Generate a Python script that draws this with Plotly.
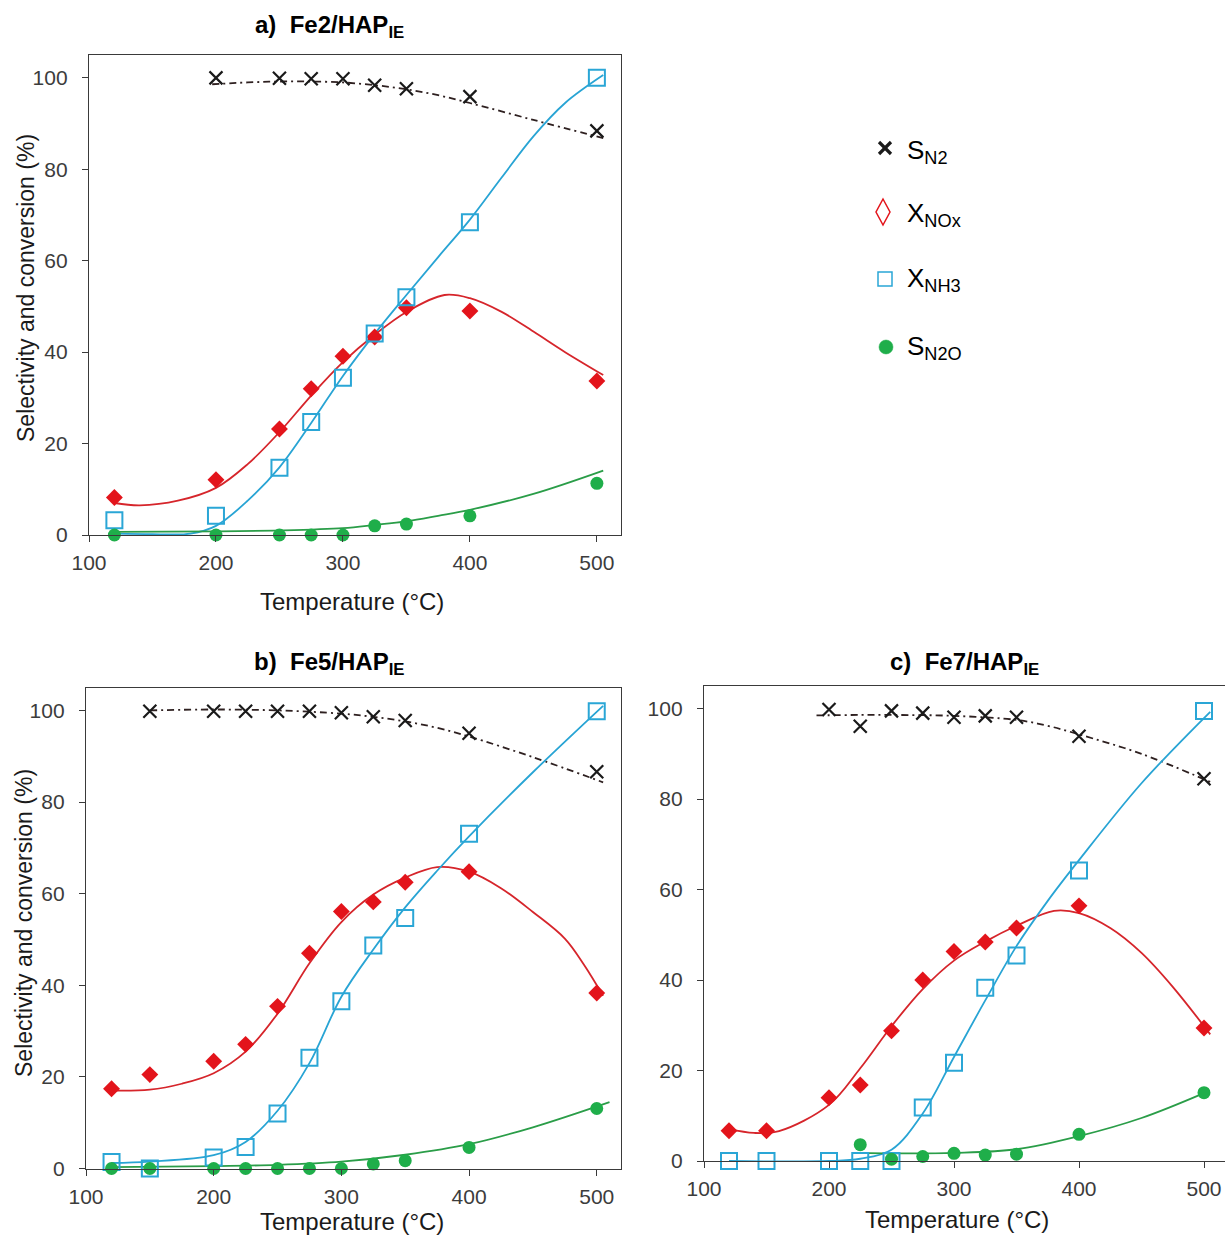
import plotly.graph_objects as go

# ---------------- data ----------------
# Panel a) Fe2/HAP_IE
T_a = [120, 200, 250, 275, 300, 325, 350, 400, 500]
SN2_a = [None, 100.0, 99.9, 99.8, 99.8, 98.4, 97.6, 95.9, 88.4]
XNOx_a = [8.2, 12.1, 23.2, 32.0, 39.1, 43.3, 49.7, 49.0, 33.7]
XNH3_a = [3.2, 4.2, 14.7, 24.7, 34.4, 44.1, 52.0, 68.4, 100.0]
SN2O_a = [0.0, 0.0, 0.0, 0.0, 0.0, 2.0, 2.4, 4.2, 11.3]

# trend curves a)
fitT_SN2_a = [197, 225, 250, 275, 300, 325, 350, 375, 400, 450, 505]
fit_SN2_a = [98.6, 99.0, 99.2, 99.2, 99.0, 98.4, 97.5, 96.2, 94.5, 90.8, 86.8]
fitT_NOx_a = [120, 140, 170, 200, 225, 250, 275, 300, 325, 350, 380, 400, 425, 450, 475, 505]
fit_NOx_a = [7.0, 6.5, 7.5, 10.3, 15.5, 22.5, 30.5, 37.8, 43.8, 48.8, 52.5, 51.8, 48.8, 44.5, 40.0, 35.0]
fitT_NH3_a = [120, 150, 180, 200, 225, 250, 275, 300, 325, 350, 375, 400, 425, 450, 475, 505]
fit_NH3_a = [0.3, 0.2, 0.3, 2.0, 7.5, 14.8, 24.5, 34.8, 44.0, 52.5, 60.8, 69.0, 78.2, 87.2, 94.5, 100.6]
fitT_N2O_a = [120, 200, 250, 300, 325, 350, 375, 400, 450, 505]
fit_N2O_a = [0.7, 0.8, 1.0, 1.5, 2.2, 3.0, 4.2, 5.5, 9.0, 14.1]

# Panel b) Fe5/HAP_IE
T_b = [120, 150, 200, 225, 250, 275, 300, 325, 350, 400, 500]
SN2_b = [None, 99.8, 99.8, 99.8, 99.8, 99.8, 99.5, 98.6, 97.8, 95.0, 86.6]
XNOx_b = [17.4, 20.5, 23.4, 27.1, 35.4, 47.0, 56.1, 58.2, 62.5, 64.8, 38.3]
XNH3_b = [1.4, 0.0, 2.4, 4.7, 12.0, 24.2, 36.5, 48.7, 54.7, 73.1, 99.8]
SN2O_b = [0.0, 0.0, 0.0, 0.0, 0.0, 0.0, 0.0, 1.0, 1.7, 4.6, 13.1]

fitT_SN2_b = [150, 200, 250, 300, 325, 350, 375, 400, 450, 505]
fit_SN2_b = [100.0, 100.2, 100.0, 99.3, 98.6, 97.6, 96.2, 94.3, 89.8, 84.3]
fitT_NOx_b = [120, 150, 175, 200, 225, 250, 275, 300, 325, 350, 375, 400, 425, 450, 475, 490, 505]
fit_NOx_b = [17.0, 17.2, 18.5, 20.8, 25.5, 33.8, 44.8, 53.8, 59.8, 63.5, 65.8, 64.8, 61.2, 56.0, 50.2, 44.5, 37.7]
fitT_NH3_b = [120, 150, 200, 225, 250, 275, 300, 325, 350, 375, 400, 450, 505]
fit_NH3_b = [1.2, 1.5, 2.9, 5.8, 12.6, 23.0, 37.5, 47.8, 57.0, 65.0, 72.5, 86.5, 101.0]
fitT_N2O_b = [120, 200, 250, 300, 350, 400, 450, 510]
fit_N2O_b = [0.3, 0.5, 0.8, 1.5, 3.0, 5.3, 9.0, 14.5]

# Panel c) Fe7/HAP_IE
T_c = [120, 150, 200, 225, 250, 275, 300, 325, 350, 400, 500]
SN2_c = [None, None, 99.8, 96.1, 99.5, 99.0, 98.1, 98.4, 98.1, 93.9, 84.5]
XNOx_c = [6.7, 6.7, 14.0, 16.8, 28.8, 40.0, 46.3, 48.4, 51.5, 56.4, 29.4]
XNH3_c = [0.0, 0.0, 0.0, 0.0, 0.0, 11.8, 21.7, 38.3, 45.4, 64.2, 99.5]
SN2O_c = [None, None, None, 3.6, 0.4, 1.0, 1.7, 1.3, 1.5, 5.9, 15.1]

fitT_SN2_c = [190, 225, 250, 300, 350, 375, 400, 450, 505]
fit_SN2_c = [98.5, 98.6, 98.6, 98.4, 97.5, 96.2, 94.3, 90.0, 83.8]
fitT_NOx_c = [120, 140, 160, 200, 225, 250, 275, 300, 325, 350, 380, 400, 425, 450, 475, 505]
fit_NOx_c = [7.1, 6.2, 6.6, 12.4, 20.5, 29.8, 38.0, 44.3, 48.5, 52.0, 55.3, 54.8, 51.5, 46.0, 38.5, 28.0]
fitT_NH3_c = [120, 200, 225, 250, 275, 300, 325, 350, 375, 400, 450, 505]
fit_NH3_c = [0.0, 0.0, 0.5, 2.5, 10.5, 23.0, 35.5, 47.5, 57.5, 66.5, 83.5, 99.3]
fitT_N2O_c = [225, 250, 300, 350, 400, 450, 500]
fit_N2O_c = [1.8, 1.7, 1.8, 2.6, 5.5, 9.5, 15.0]

panel_titles = ["a)\u00a0 Fe2/HAP<sub>IE</sub>", "b)\u00a0 Fe5/HAP<sub>IE</sub>", "c)\u00a0 Fe7/HAP<sub>IE</sub>"]
legend_labels = ["S<sub>N2</sub>", "X<sub>NOx</sub>", "X<sub>NH3</sub>", "S<sub>N2O</sub>"]
x_ticks = [100, 200, 300, 400, 500]
y_ticks = [0, 20, 40, 60, 80, 100]

# ---------------- styling ----------------
W, H = 1225, 1236
FONT = "Liberation Sans, Arial, sans-serif"
C_BLACK = "#1a1a1a"
C_DASH = "#2e2020"
C_RED = "#e3141b"
C_RED_LINE = "#d6252b"
C_BLUE = "#2aa6d6"
C_BLUE_LINE = "#28a4d4"
C_GREEN = "#1fae4a"
C_GREEN_LINE = "#2a9d48"


def px_x(a, b):
    return [a / W, b / W]


def px_y(top, bottom):
    return [1 - bottom / H, 1 - top / H]


def fx(p):
    return p / W


def fy(p):
    return 1 - p / H


fig = go.Figure()

panels = [
    dict(ax="", T=T_a, SN2=SN2_a, NOx=XNOx_a, NH3=XNH3_a, N2O=SN2O_a,
         fits=[(fitT_SN2_a, fit_SN2_a), (fitT_NOx_a, fit_NOx_a), (fitT_NH3_a, fit_NH3_a), (fitT_N2O_a, fit_N2O_a)]),
    dict(ax="2", T=T_b, SN2=SN2_b, NOx=XNOx_b, NH3=XNH3_b, N2O=SN2O_b,
         fits=[(fitT_SN2_b, fit_SN2_b), (fitT_NOx_b, fit_NOx_b), (fitT_NH3_b, fit_NH3_b), (fitT_N2O_b, fit_N2O_b)]),
    dict(ax="3", T=T_c, SN2=SN2_c, NOx=XNOx_c, NH3=XNH3_c, N2O=SN2O_c,
         fits=[(fitT_SN2_c, fit_SN2_c), (fitT_NOx_c, fit_NOx_c), (fitT_NH3_c, fit_NH3_c), (fitT_N2O_c, fit_N2O_c)]),
]

line_styles = [
    dict(color=C_DASH, width=1.8, dash="7px,4px,2px,4px"),
    dict(color=C_RED_LINE, width=1.8),
    dict(color=C_BLUE_LINE, width=1.8),
    dict(color=C_GREEN_LINE, width=1.8),
]

for p in panels:
    xa, ya = "x" + p["ax"], "y" + p["ax"]
    for (fxv, fyv), ls in zip(p["fits"], line_styles):
        fig.add_trace(go.Scatter(x=fxv, y=fyv, mode="lines", line=dict(shape="spline", smoothing=1.0, **ls),
                                 xaxis=xa, yaxis=ya, showlegend=False, cliponaxis=False, hoverinfo="skip"))
    fig.add_trace(go.Scatter(x=p["T"], y=p["SN2"], mode="markers", name="S_N2",
                             marker=dict(symbol="x-thin-open", size=13, color=C_BLACK,
                                         line=dict(color=C_BLACK, width=2.2)),
                             xaxis=xa, yaxis=ya, showlegend=False, cliponaxis=False))
    fig.add_trace(go.Scatter(x=p["T"], y=p["NOx"], mode="markers", name="X_NOx",
                             marker=dict(symbol="diamond", size=13, color=C_RED),
                             xaxis=xa, yaxis=ya, showlegend=False, cliponaxis=False))
    fig.add_trace(go.Scatter(x=p["T"], y=p["NH3"], mode="markers", name="X_NH3",
                             marker=dict(symbol="square-open", size=16, color=C_BLUE, line=dict(color=C_BLUE, width=2)),
                             xaxis=xa, yaxis=ya, showlegend=False, cliponaxis=False))
    fig.add_trace(go.Scatter(x=p["T"], y=p["N2O"], mode="markers", name="S_N2O",
                             marker=dict(symbol="circle", size=13, color=C_GREEN),
                             xaxis=xa, yaxis=ya, showlegend=False, cliponaxis=False))

axis_common = dict(
    showgrid=False, zeroline=False, showline=True, mirror=True,
    linecolor="#3a3a3a", linewidth=1.3, ticks="outside", ticklen=6, tickwidth=1.3, tickcolor="#3a3a3a",
    tickfont=dict(family=FONT, size=21, color="#3c3c3c"),
)

fig.update_layout(
    width=W, height=H,
    margin=dict(l=0, r=0, t=0, b=0, pad=0, autoexpand=False),
    paper_bgcolor="white", plot_bgcolor="rgba(0,0,0,0)",
    showlegend=False,
    xaxis=dict(domain=px_x(89, 621), range=[100, 519], tickvals=x_ticks, anchor="y", ticklabelstandoff=3, **axis_common),
    yaxis=dict(domain=px_y(55, 535), range=[0, 105], tickvals=y_ticks, anchor="x", ticklabelstandoff=10, **axis_common),
    xaxis2=dict(domain=px_x(86, 621), range=[100, 519], tickvals=x_ticks, anchor="y2", ticklabelstandoff=3, **axis_common),
    yaxis2=dict(domain=px_y(687.5, 1168.5), range=[0, 105], tickvals=y_ticks, anchor="x2", ticklabelstandoff=10, **axis_common),
    xaxis3=dict(domain=px_x(704, 1225), range=[100, 516.8], tickvals=x_ticks, anchor="y3", ticklabelstandoff=3, **axis_common),
    yaxis3=dict(domain=px_y(686, 1161), range=[0, 105], tickvals=y_ticks, anchor="x3", ticklabelstandoff=10, **axis_common),
)

# legend keys as shapes (paper coordinates, centred on given pixel positions)
shapes = []
cx, cy, r = 885, 148, 6
for d in (1, -1):
    shapes.append(dict(type="line", xref="paper", yref="paper",
                       x0=fx(cx - r), y0=fy(cy - d * r), x1=fx(cx + r), y1=fy(cy + d * r),
                       line=dict(color=C_BLACK, width=3.2)))
cx, cy = 883, 212
path = "M {} {} L {} {} L {} {} L {} {} Z".format(fx(cx), fy(cy - 13), fx(cx + 7), fy(cy), fx(cx), fy(cy + 13), fx(cx - 7), fy(cy))
shapes.append(dict(type="path", xref="paper", yref="paper", path=path, line=dict(color=C_RED, width=1.5)))
cx, cy = 885, 279
shapes.append(dict(type="rect", xref="paper", yref="paper", x0=fx(cx - 7), x1=fx(cx + 7), y0=fy(cy - 7), y1=fy(cy + 7),
                   line=dict(color=C_BLUE, width=1.5)))
cx, cy = 886, 347
shapes.append(dict(type="circle", xref="paper", yref="paper", x0=fx(cx - 7), x1=fx(cx + 7), y0=fy(cy - 7), y1=fy(cy + 7),
                   line=dict(color=C_GREEN, width=0.5), fillcolor=C_GREEN))
fig.update_layout(shapes=shapes)

ann = []
for txt, (cx, cy) in zip(panel_titles, [(329, 27), (329, 664), (964, 664)]):
    ann.append(dict(text="<b>" + txt + "</b>", x=fx(cx), y=fy(cy), xref="paper", yref="paper",
                    xanchor="center", yanchor="middle", showarrow=False,
                    font=dict(family=FONT, size=24, color="black")))
for cx, cy in [(352, 601), (352, 1221), (957, 1219)]:
    ann.append(dict(text="Temperature (°C)", x=fx(cx), y=fy(cy), xref="paper", yref="paper",
                    xanchor="center", yanchor="middle", showarrow=False,
                    font=dict(family=FONT, size=24, color="#1a1a1a")))
for cx, cy in [(26, 288), (24, 923)]:
    ann.append(dict(text="Selectivity and conversion (%)", x=fx(cx), y=fy(cy), xref="paper", yref="paper",
                    xanchor="center", yanchor="middle", textangle=-90, showarrow=False,
                    font=dict(family=FONT, size=23, color="#1a1a1a")))
for lab, ly in zip(legend_labels, [151, 214, 280, 347]):
    ann.append(dict(text=lab, x=fx(905), y=fy(ly), xref="paper", yref="paper",
                    xanchor="left", yanchor="middle", showarrow=False,
                    font=dict(family=FONT, size=26, color="black")))
fig.update_layout(annotations=ann)

fig.write_html("out.html", config={"displayModeBar": False},
               post_script="document.body.style.margin='0';document.body.style.padding='0';")
